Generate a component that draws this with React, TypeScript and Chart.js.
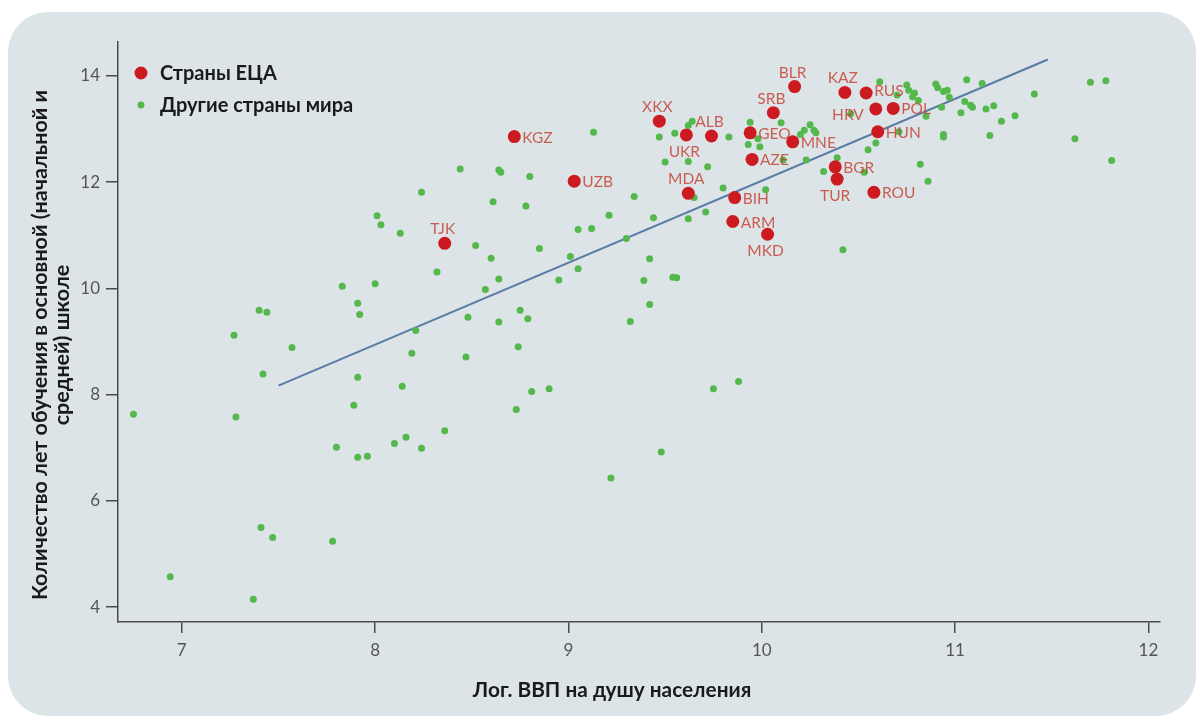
import React, { useEffect, useRef } from 'react';
import { Chart, registerables } from 'chart.js';

Chart.register(...registerables);

// ---------- data ----------
const SERIES_NAMES = ['Страны ЕЦА', 'Другие страны мира'];
const X_TITLE = 'Лог. ВВП на душу населения';
const Y_TITLE = ['Количество лет обучения в основной (начальной и', 'средней) школе'];

const X_TICKS = [7, 8, 9, 10, 11, 12];
const Y_TICKS = [4, 6, 8, 10, 12, 14];

const ECA_CODES = ['TJK', 'KGZ', 'UZB', 'XKX', 'UKR', 'ALB', 'MDA', 'GEO', 'AZE', 'BIH', 'ARM', 'MKD', 'SRB', 'BLR', 'MNE', 'KAZ', 'RUS', 'HRV', 'POL', 'HUN', 'BGR', 'TUR', 'ROU'];
const ECA_X = [8.36, 8.72, 9.03, 9.47, 9.61, 9.74, 9.62, 9.94, 9.95, 9.86, 9.85, 10.03, 10.06, 10.17, 10.16, 10.43, 10.54, 10.59, 10.68, 10.60, 10.38, 10.39, 10.58];
const ECA_Y = [10.85, 12.86, 12.02, 13.15, 12.89, 12.87, 11.79, 12.93, 12.43, 11.71, 11.26, 11.02, 13.31, 13.80, 12.76, 13.69, 13.68, 13.38, 13.39, 12.95, 12.29, 12.06, 11.81];

const OTHER_X = [
  6.75, 6.94, 7.27, 7.28, 7.37, 7.40, 7.44, 7.42, 7.41, 7.47,
  7.57, 7.78, 7.83, 8.00, 7.91, 7.92, 8.21, 8.19, 7.91, 8.14,
  7.89, 8.36, 8.16, 8.10, 8.24, 7.80, 7.91, 7.96, 8.52, 8.60,
  8.32, 8.57, 8.64, 8.48, 8.47, 8.13, 8.44, 8.64, 8.65, 8.80,
  8.24, 8.61, 8.78, 8.01, 8.03, 8.85, 9.05, 9.12, 9.21, 9.01,
  9.05, 8.95, 8.75, 8.79, 8.64, 8.74, 8.81, 8.90, 8.73, 9.13,
  9.34, 9.30, 9.42, 9.44, 9.62, 9.71, 9.80, 9.72, 9.50, 9.62,
  9.65, 9.47, 9.55, 9.62, 9.64, 9.83, 9.94, 9.98, 9.93, 9.99,
  10.02, 10.11, 10.10, 9.39, 9.54, 9.56, 9.42, 9.32, 9.75, 9.88,
  9.48, 9.22, 10.42, 10.20, 10.22, 10.25, 10.27, 10.28, 10.23, 10.32,
  10.39, 10.53, 10.55, 10.59, 10.46, 10.61, 10.70, 10.71, 10.75, 10.76,
  10.78, 10.79, 10.81, 10.90, 10.91, 10.94, 10.96, 10.97, 11.06, 11.14,
  11.05, 11.08, 11.09, 11.03, 10.93, 10.85, 11.16, 11.20, 11.24, 11.31,
  11.41, 10.94, 10.94, 11.18, 11.62, 11.70, 11.78, 11.81, 10.82, 10.86,
];
const OTHER_Y = [
  7.63, 4.57, 9.12, 7.58, 4.15, 9.59, 9.55, 8.39, 5.50, 5.31,
  8.89, 5.24, 10.04, 10.09, 9.72, 9.51, 9.21, 8.78, 8.33, 8.16,
  7.80, 7.32, 7.20, 7.08, 6.99, 7.01, 6.82, 6.84, 10.81, 10.57,
  10.31, 9.98, 10.18, 9.46, 8.71, 11.04, 12.25, 12.23, 12.19, 12.11,
  11.81, 11.63, 11.55, 11.37, 11.20, 10.75, 11.11, 11.13, 11.38, 10.60,
  10.37, 10.16, 9.59, 9.43, 9.37, 8.90, 8.06, 8.11, 7.72, 12.94,
  11.73, 10.94, 10.56, 11.33, 11.31, 11.44, 11.89, 12.29, 12.38, 12.39,
  11.71, 12.85, 12.92, 13.07, 13.15, 12.85, 13.13, 12.82, 12.71, 12.67,
  11.86, 12.42, 13.12, 10.15, 10.21, 10.20, 9.70, 9.38, 8.11, 8.25,
  6.92, 6.43, 10.73, 12.90, 12.98, 13.08, 12.98, 12.93, 12.42, 12.20,
  12.46, 12.19, 12.61, 12.74, 13.29, 13.89, 13.64, 12.95, 13.83, 13.73,
  13.61, 13.68, 13.54, 13.85, 13.78, 13.71, 13.73, 13.60, 13.93, 13.86,
  13.52, 13.45, 13.41, 13.31, 13.41, 13.24, 13.38, 13.44, 13.15, 13.25,
  13.66, 12.85, 12.90, 12.88, 12.82, 13.88, 13.91, 12.41, 12.34, 12.02,
];

const TREND_X = [7.5, 11.48];
const TREND_Y = [8.17, 14.31];

// label placement around ECA markers (style only)
const LABEL_PLACEMENT: Record<string, 'right' | 'above' | 'below' | 'left'> = {
  TJK: 'above', XKX: 'above', ALB: 'above', MDA: 'above', SRB: 'above', BLR: 'above', KAZ: 'above',
  UKR: 'below', MKD: 'below', TUR: 'below', HRV: 'left',
};

// ---------- styles ----------
const RED = '#cc1b20';
const GREEN = '#55b84c';
const LINE_BLUE = '#5a7ba6';
const LABEL_COLOR = 'rgba(196, 62, 48, 0.82)';
const AXIS_COLOR = '#4a4a4a';
const TICK_COLOR = '#555555';
const FONT = 'Lato, "Open Sans", sans-serif';

const labelPlugin = {
  id: 'ecaLabels',
  afterDatasetsDraw(chart: any) {
    const meta = chart.getDatasetMeta(0);
    const ctx = chart.ctx;
    ctx.save();
    ctx.font = `15.5px ${FONT}`;
    ctx.fillStyle = LABEL_COLOR;
    meta.data.forEach((el: any, i: number) => {
      const code = ECA_CODES[i];
      const place = LABEL_PLACEMENT[code] || 'right';
      const { x, y } = el;
      ctx.textBaseline = 'middle';
      if (place === 'right') {
        ctx.textAlign = 'left';
        ctx.fillText(code, x + 8, code === 'RUS' ? y - 2 : y + 1);
      } else if (place === 'above') {
        ctx.textAlign = 'center';
        ctx.fillText(code, x - 2, y - 14);
      } else if (place === 'below') {
        ctx.textAlign = 'center';
        ctx.fillText(code, x - 2, y + 17);
      } else {
        ctx.textAlign = 'right';
        ctx.fillText(code, x - 12, y + 6);
      }
    });
    ctx.restore();
  },
};

const decorPlugin = {
  id: 'decor',
  afterDraw(chart: any) {
    const { ctx, chartArea } = chart;
    ctx.save();
    // legend inside plot area
    [0, 1].forEach((i) => {
      const ds = chart.data.datasets[i];
      const cx = chartArea.left + 23;
      const cy = chartArea.top + 31 + i * 32;
      ctx.beginPath();
      ctx.arc(cx, cy, ds.pointRadius, 0, Math.PI * 2);
      ctx.fillStyle = ds.backgroundColor;
      ctx.fill();
      ctx.font = `bold 20px ${FONT}`;
      ctx.fillStyle = '#1a1a1a';
      ctx.textAlign = 'left';
      ctx.textBaseline = 'middle';
      ctx.fillText(ds.label, chartArea.left + 42, cy + 1);
    });
    // axis titles
    ctx.fillStyle = '#1a1a1a';
    ctx.textAlign = 'center';
    ctx.textBaseline = 'middle';
    ctx.font = `bold 20.8px ${FONT}`;
    ctx.fillText(X_TITLE, (chartArea.left + chartArea.right) / 2 - 27, chartArea.bottom + 68);
    ctx.font = `bold 21.5px ${FONT}`;
    ctx.translate(chartArea.left - 78, (chartArea.top + chartArea.bottom) / 2 + 13);
    ctx.rotate(-Math.PI / 2);
    Y_TITLE.forEach((line, i) => {
      ctx.fillText(line, 0, i * 22);
    });
    ctx.restore();
  },
};

export default function App() {
  const ref = useRef<HTMLCanvasElement | null>(null);

  useEffect(() => {
    if (!ref.current) return;
    const chart = new Chart(ref.current, {
      type: 'scatter',
      data: {
        datasets: [
          {
            label: SERIES_NAMES[0],
            data: ECA_X.map((x, i) => ({ x, y: ECA_Y[i] })),
            backgroundColor: RED,
            borderWidth: 0,
            pointRadius: 6.5,
            pointHoverRadius: 6.5,
          } as any,
          {
            label: SERIES_NAMES[1],
            data: OTHER_X.map((x, i) => ({ x, y: OTHER_Y[i] })),
            backgroundColor: GREEN,
            borderWidth: 0,
            pointRadius: 3.5,
            pointHoverRadius: 3.5,
          } as any,
          {
            type: 'line',
            label: 'trend',
            data: TREND_X.map((x, i) => ({ x, y: TREND_Y[i] })),
            borderColor: LINE_BLUE,
            borderWidth: 2,
            pointRadius: 0,
            fill: false,
            showLine: true,
          } as any,
        ],
      },
      options: {
        animation: false,
        responsive: false,
        maintainAspectRatio: false,
        events: [],
        layout: { padding: { left: 0, top: 42, right: 36, bottom: 0 } },
        plugins: {
          legend: { display: false },
          tooltip: { enabled: false },
        },
        scales: {
          x: {
            type: 'linear',
            min: 6.67,
            max: 12.06,
            afterFit: (s: any) => { s.height = 102; },
            afterBuildTicks: (s: any) => { s.ticks = X_TICKS.map((v) => ({ value: v })); },
            grid: { drawOnChartArea: false, drawTicks: true, tickLength: 11, color: AXIS_COLOR, lineWidth: 1.5 },
            border: { display: true, color: AXIS_COLOR, width: 1.5 },
            ticks: { color: TICK_COLOR, font: { family: FONT, size: 17 }, padding: 7 },
          },
          y: {
            type: 'linear',
            min: 3.72,
            max: 14.64,
            afterFit: (s: any) => { s.width = 118; },
            afterBuildTicks: (s: any) => { s.ticks = Y_TICKS.map((v) => ({ value: v })); },
            grid: { drawOnChartArea: false, drawTicks: true, tickLength: 12, color: AXIS_COLOR, lineWidth: 1.5 },
            border: { display: true, color: AXIS_COLOR, width: 1.5 },
            ticks: { color: TICK_COLOR, font: { family: FONT, size: 17 }, padding: 6 },
          },
        },
      } as any,
      plugins: [labelPlugin, decorPlugin],
    });
    return () => chart.destroy();
  }, []);

  return (
    <div style={{ position: 'absolute', left: 0, top: 0, width: 1196, height: 724, background: '#ffffff', overflow: 'hidden' }}>
      <div style={{ position: 'absolute', left: 8, top: 12, width: 1188, height: 704, background: '#dde4e7', borderRadius: 40 }} />
      <canvas ref={ref} width={1196} height={724} style={{ position: 'absolute', left: 0, top: 0, width: 1196, height: 724 }} />
    </div>
  );
}
